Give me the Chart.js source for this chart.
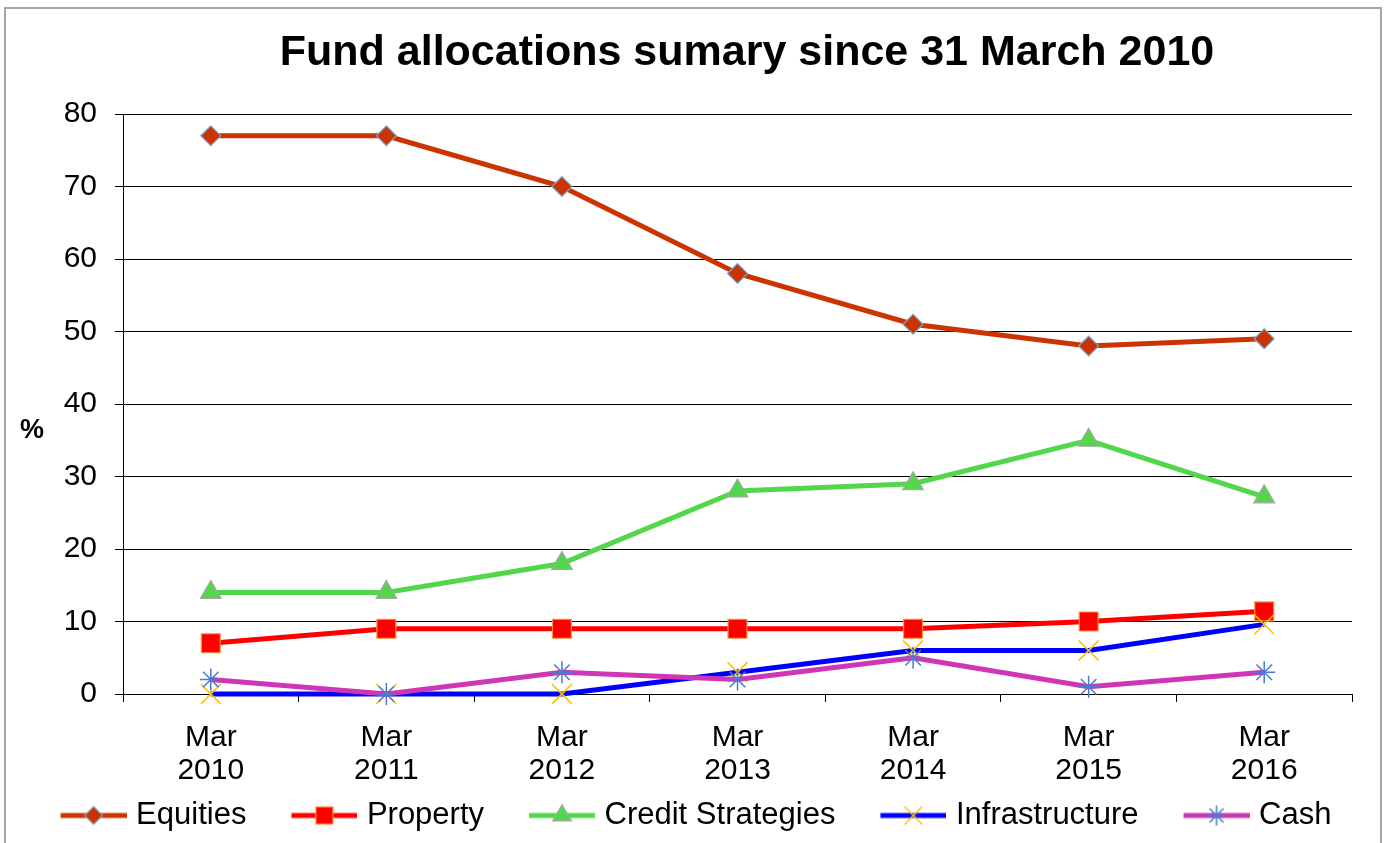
<!DOCTYPE html>
<html>
<head>
<meta charset="utf-8">
<script src="https://cdn.jsdelivr.net/npm/chart.js@4.4.1/dist/chart.umd.min.js"></script>
<style>
  body { margin: 0; background: #fff; }
  #wrap { width: 1386px; height: 843px; position: relative; }
</style>
</head>
<body>
<div id="wrap"><canvas id="fundChart" width="1386" height="843"></canvas></div>
<script>
// Chart values
const years = ["2010", "2011", "2012", "2013", "2014", "2015", "2016"];
const seriesNames = ["Equities", "Property", "Credit Strategies", "Infrastructure", "Cash"];
const equities = [77, 77, 70, 58, 51, 48, 49];
const property = [7, 9, 9, 9, 9, 10, 11.4];
const creditStrategies = [14, 14, 18, 28, 29, 35, 27.2];
const infrastructure = [0, 0, 0, 3, 6, 6, 9.6];
const cash = [2, 0, 3, 2, 5, 1, 3];
const yTicks = [0, 10, 20, 30, 40, 50, 60, 70, 80];

const FONT = "'Liberation Sans', Arial, sans-serif";

const styles = [
  { line: "#CC3300", fill: "#CC3300", edge: "#6FA8DC", point: "rectRot", r: 10, bw: 1.2 },
  { line: "#FF0000", fill: "#FF0000", edge: "#F79646", point: "rect", r: 13.4, bw: 1.2 },
  { line: "#52D64A", fill: "#52D64A", edge: "#A6A6A6", point: "triangle", r: 12, bw: 1.2 },
  { line: "#0000FF", fill: "#FFC000", edge: "#FFC000", point: "crossRot", r: 14, bw: 1.5 },
  { line: "#CF35B5", fill: "#4A7BD0", edge: "#4A7BD0", point: "star", r: 11, bw: 1.5 }
];
const values = [equities, property, creditStrategies, infrastructure, cash];

// legend swatch: line with the marker on it
function makeSwatch(s) {
  const c = document.createElement("canvas");
  c.width = 112;
  c.height = 30;
  const g = c.getContext("2d");
  g.strokeStyle = s.line;
  g.lineWidth = 5;
  g.beginPath();
  g.moveTo(46, 15);
  g.lineTo(112, 15);
  g.stroke();
  g.fillStyle = s.fill;
  g.strokeStyle = s.edge;
  g.lineWidth = s.bw;
  Chart.helpers.drawPoint(g, { pointStyle: s.point, radius: s.r * 0.9, rotation: 0, borderWidth: s.bw }, 79, 15);
  return c;
}
const swatches = styles.map(makeSwatch);

const datasets = seriesNames.map((name, i) => ({
  label: name,
  data: values[i],
  borderColor: styles[i].line,
  backgroundColor: styles[i].fill,
  borderWidth: 5,
  pointStyle: styles[i].point,
  pointRadius: styles[i].r,
  pointBackgroundColor: styles[i].fill,
  pointBorderColor: styles[i].edge,
  pointBorderWidth: styles[i].bw,
  tension: 0,
  clip: false,
  order: seriesNames.length - i
}));

const frameAndText = {
  id: "frameAndText",
  beforeDraw(chart) {
    const c = chart.ctx;
    c.save();
    c.fillStyle = "#fff";
    c.fillRect(0, 0, chart.width, chart.height);
    c.strokeStyle = "#A6A6A6";
    c.lineWidth = 2;
    c.strokeRect(5, 8, 1376, 900);
    c.restore();
  },
  afterDraw(chart) {
    const c = chart.ctx;
    c.save();
    c.fillStyle = "#000";
    c.textAlign = "center";
    c.textBaseline = "middle";
    c.font = "bold 43px " + FONT;
    c.fillText("Fund allocations sumary since 31 March 2010", 747, 53);
    c.font = "bold 27px " + FONT;
    c.fillText("%", 32, 431);
    c.restore();
  }
};

new Chart(document.getElementById("fundChart"), {
  type: "line",
  data: {
    labels: years.map((y) => ["Mar", y]),
    datasets: datasets
  },
  options: {
    responsive: false,
    animation: false,
    layout: { padding: { top: 114, right: 34, bottom: 2, left: 0 } },
    plugins: {
      title: { display: false },
      tooltip: { enabled: false },
      legend: {
        position: "bottom",
        labels: {
          usePointStyle: true,
          pointStyleWidth: 100,
          padding: 5,
          color: "#000",
          font: { family: FONT, size: 31 },
          generateLabels: () => seriesNames.map((name, i) => ({
            text: name,
            pointStyle: swatches[i],
            datasetIndex: i,
            hidden: false,
            fontColor: "#000",
            lineWidth: 0,
            strokeStyle: "rgba(0,0,0,0)",
            fillStyle: "rgba(0,0,0,0)"
          }))
        }
      }
    },
    scales: {
      x: {
        offset: true,
        grid: { display: true, drawOnChartArea: false, drawTicks: true, tickLength: 8, offset: true, color: "#000" },
        border: { color: "#000", width: 1 },
        ticks: { color: "#000", padding: 19, maxRotation: 0, autoSkip: false, font: { family: FONT, size: 30, lineHeight: 1.1 } },
        afterFit(scale) { scale.height = 101; }
      },
      y: {
        min: 0,
        max: 80,
        afterBuildTicks(scale) { scale.ticks = yTicks.map((v) => ({ value: v })); },
        grid: { color: "#000", lineWidth: 1, tickLength: 8 },
        border: { color: "#000", width: 1 },
        ticks: { color: "#000", padding: 18, font: { family: FONT, size: 30 } },
        afterFit(scale) { scale.width = 123; }
      }
    }
  },
  plugins: [frameAndText]
});
</script>
</body>
</html>
